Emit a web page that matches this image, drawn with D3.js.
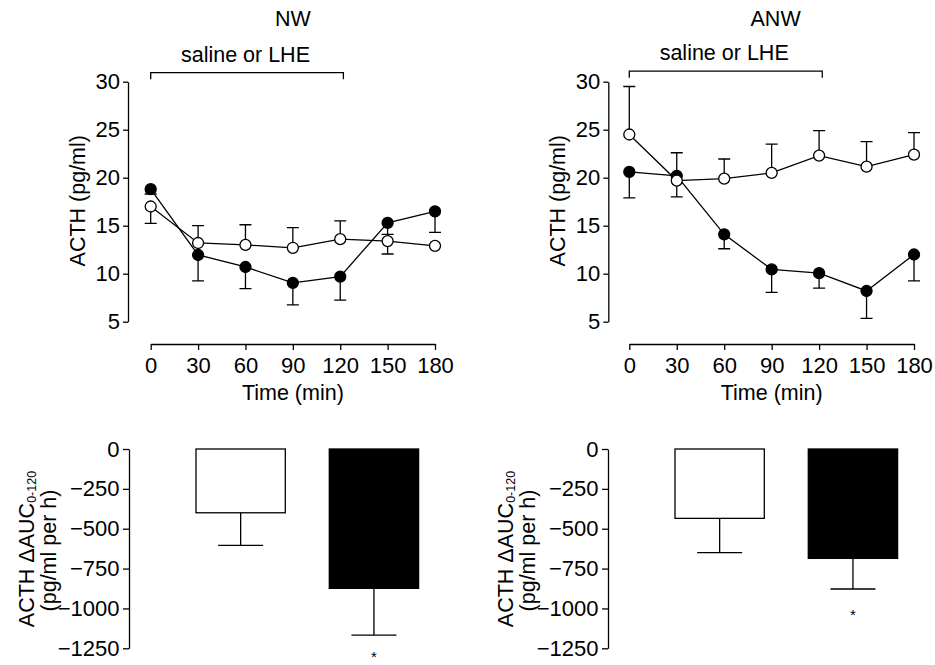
<!DOCTYPE html>
<html>
<head>
<meta charset="utf-8">
<script src="https://cdn.jsdelivr.net/npm/d3@7"></script>
<style>
  html, body { margin: 0; padding: 0; background: #fff; }
  svg text { font-family: "Liberation Sans", Arial, Helvetica, sans-serif; fill: #000; }
</style>
</head>
<body>
<svg id="chart" width="935" height="665"></svg>
<script>
"use strict";

// data
var times = [0, 30, 60, 90, 120, 150, 180];
var infusion = [0, 122];

var nwSaline    = [17.0, 13.2, 13.0, 12.7, 13.6, 13.4, 12.9];
var nwSalineErr = [1.75, 1.8, 2.1, 2.1, 1.9, 1.35, 0];
var nwSalineDir = [-1, 1, 1, 1, 1, -1, 1];
var nwLhe       = [18.8, 11.95, 10.7, 9.05, 9.7, 15.3, 16.5];
var nwLheErr    = [0.5, 2.7, 2.25, 2.3, 2.45, 1.2, 2.2];
var nwLheDir    = [-1, -1, -1, -1, -1, -1, -1];

var anwSaline    = [24.5, 19.7, 19.9, 20.5, 22.3, 21.15, 22.4];
var anwSalineErr = [5.0, 2.9, 2.05, 3.0, 2.6, 2.6, 2.3];
var anwSalineDir = [1, 1, 1, 1, 1, 1, 1];
var anwLhe       = [20.6, 20.2, 14.1, 10.45, 10.05, 8.2, 12.0];
var anwLheErr    = [2.7, 2.2, 1.5, 2.4, 1.55, 2.85, 2.75];
var anwLheDir    = [-1, -1, -1, -1, -1, -1, -1];

var groups    = ["saline", "LHE"];
var nwAuc     = [-400, -874];
var nwAucErr  = [204, 293];
var anwAuc    = [-435, -686];
var anwAucErr = [215, 192];
var aucStar   = [false, true];

var acthTicks = [5, 10, 15, 20, 25, 30];
var aucTicks  = [0, -250, -500, -750, -1000, -1250];

(function() {
  var svg, FS, TFS, SW, R;
  var drawTimecourse, drawAuc;

  svg = d3.select("#chart");
  FS = 21.5;   // labels
  TFS = 22;    // tick labels
  SW = 1.3;
  R = 5.5;

  // functions
  drawTimecourse = function(opt) {
    var x, y, g, line, series;

    x = d3.scaleLinear().domain([0, 180]).range(opt.xRange);
    y = d3.scaleLinear().domain([5, 30]).range([321.7, 81.7]);
    g = svg.append("g");

    // axes
    g.append("g")
      .attr("transform", "translate(" + opt.yAxisX + ",0)")
      .call(d3.axisLeft(y).tickValues(acthTicks).tickSize(5).tickPadding(3).tickSizeOuter(0))
      .call(styleAxis);
    g.append("g")
      .attr("transform", "translate(0,344)")
      .call(d3.axisBottom(x).tickValues(times).tickSize(6).tickPadding(7.8).tickSizeOuter(0))
      .call(styleAxis);

    g.append("text")
      .attr("transform", "translate(" + (opt.yAxisX - 43) + "," + y(17.6) + ") rotate(-90)")
      .attr("text-anchor", "middle")
      .style("font-size", FS + "px")
      .text("ACTH (pg/ml)");
    g.append("text")
      .attr("x", x(90)).attr("y", 400)
      .attr("text-anchor", "middle")
      .style("font-size", FS + "px")
      .text("Time (min)");
    g.append("text")
      .attr("x", x(opt.titleAt)).attr("y", 26)
      .attr("text-anchor", "middle")
      .style("font-size", FS + "px")
      .text(opt.title);

    // infusion bracket
    g.append("path")
      .attr("d", "M" + x(infusion[0]) + "," + (opt.bracketY + 6.5) + "V" + opt.bracketY +
                 "H" + x(infusion[1]) + "V" + (opt.bracketY + 6.5))
      .attr("fill", "none").attr("stroke", "#000").attr("stroke-width", SW);
    g.append("text")
      .attr("x", x(60)).attr("y", opt.bracketY - 11)
      .attr("text-anchor", "middle")
      .style("font-size", FS + "px")
      .text("saline or LHE");

    series = [
      { v: opt.lhe, e: opt.lheErr, d: opt.lheDir, fill: "#000" },
      { v: opt.saline, e: opt.salineErr, d: opt.salineDir, fill: "#fff" }
    ];

    line = d3.line()
      .x(function(d, i) { return x(times[i]); })
      .y(function(d) { return y(d); });

    // lines
    series.forEach(function(s) {
      g.append("path")
        .attr("d", line(s.v))
        .attr("fill", "none").attr("stroke", "#000").attr("stroke-width", SW);
    });

    // error bars
    series.forEach(function(s) {
      g.selectAll(null)
        .data(d3.range(times.length).filter(function(i) { return s.e[i] > 0; }))
        .enter()
        .append("path")
        .attr("d", function(i) {
          var cx = x(times[i]), y0 = y(s.v[i]), y1 = y(s.v[i] + s.d[i] * s.e[i]);
          return "M" + cx + "," + y0 + "V" + y1 + "M" + (cx - 6) + "," + y1 + "H" + (cx + 6);
        })
        .attr("fill", "none").attr("stroke", "#000").attr("stroke-width", SW);
    });

    // markers
    series.forEach(function(s) {
      g.selectAll(null)
        .data(s.v)
        .enter()
        .append("circle")
        .attr("cx", function(d, i) { return x(times[i]); })
        .attr("cy", function(d) { return y(d); })
        .attr("r", R)
        .attr("fill", s.fill)
        .attr("stroke", "#000").attr("stroke-width", SW);
    });
  };

  drawAuc = function(opt) {
    var x, y, g, lab;

    y = d3.scaleLinear().domain([-1250, 0]).range([648.3, 449]);
    x = d3.scaleBand().domain(groups).range([opt.axisX + 67, opt.axisX + 289.6]).paddingInner(0.33);
    g = svg.append("g");

    g.append("g")
      .attr("transform", "translate(" + opt.axisX + ",0)")
      .call(d3.axisLeft(y).tickValues(aucTicks).tickSize(6).tickPadding(3.5).tickSizeOuter(0)
        .tickFormat(function(d) { return d < 0 ? "\u2212" + Math.abs(d) : d; }))
      .call(styleAxis);

    // y label, two lines
    lab = g.append("text")
      .attr("transform", "translate(" + (opt.axisX - 95.5) + ",549) rotate(-90)")
      .attr("text-anchor", "middle")
      .style("font-size", FS + "px");
    lab.append("tspan").text("ACTH \u0394AUC");
    lab.append("tspan").attr("dy", "0.2em").style("font-size", "12.5px").text("0-120");
    g.append("text")
      .attr("transform", "translate(" + (opt.axisX - 73.5) + ",550.5) rotate(-90)")
      .attr("text-anchor", "middle")
      .style("font-size", FS + "px")
      .text("(pg/ml per h)");

    // error bars
    g.selectAll(null)
      .data(groups)
      .enter()
      .append("path")
      .attr("d", function(d, i) {
        var cx = x(d) + x.bandwidth() / 2, y0 = y(opt.auc[i]), y1 = y(opt.auc[i] - opt.err[i]);
        return "M" + cx + "," + y0 + "V" + y1 + "M" + (cx - 22.5) + "," + y1 + "H" + (cx + 22.5);
      })
      .attr("fill", "none").attr("stroke", "#000").attr("stroke-width", SW);

    // bars
    g.selectAll(null)
      .data(groups)
      .enter()
      .append("rect")
      .attr("x", function(d) { return x(d); })
      .attr("y", y(0))
      .attr("width", x.bandwidth())
      .attr("height", function(d, i) { return y(opt.auc[i]) - y(0); })
      .attr("fill", function(d, i) { return i === 0 ? "#fff" : "#000"; })
      .attr("stroke", "#000").attr("stroke-width", SW);

    // significance
    g.selectAll(null)
      .data(groups.filter(function(d, i) { return aucStar[i]; }))
      .enter()
      .append("text")
      .attr("x", function(d) { return x(d) + x.bandwidth() / 2; })
      .attr("y", function(d) {
        var i = groups.indexOf(d);
        var c = Math.min(y(opt.auc[i] - opt.err[i]) + 22, 653);
        return c + 0.57 * 15;
      })
      .attr("text-anchor", "middle")
      .style("font-size", "15px")
      .text("*");
  };

  function styleAxis(sel) {
    sel.select(".domain").attr("stroke", "#000").attr("stroke-width", SW);
    sel.selectAll(".tick line").attr("stroke", "#000").attr("stroke-width", SW);
    sel.selectAll(".tick text").style("font-size", TFS + "px").attr("fill", "#000");
  }

  // operations
  drawTimecourse({
    title: "NW", titleAt: 90, xRange: [150.7, 435], yAxisX: 128, bracketY: 72.7,
    saline: nwSaline, salineErr: nwSalineErr, salineDir: nwSalineDir,
    lhe: nwLhe, lheErr: nwLheErr, lheDir: nwLheDir
  });
  drawTimecourse({
    title: "ANW", titleAt: 92.5, xRange: [629.3, 914], yAxisX: 608.3, bracketY: 71.2,
    saline: anwSaline, salineErr: anwSalineErr, salineDir: anwSalineDir,
    lhe: anwLhe, lheErr: anwLheErr, lheDir: anwLheDir
  });
  drawAuc({ axisX: 129, auc: nwAuc, err: nwAucErr });
  drawAuc({ axisX: 608, auc: anwAuc, err: anwAucErr });
})();
</script>
</body>
</html>
